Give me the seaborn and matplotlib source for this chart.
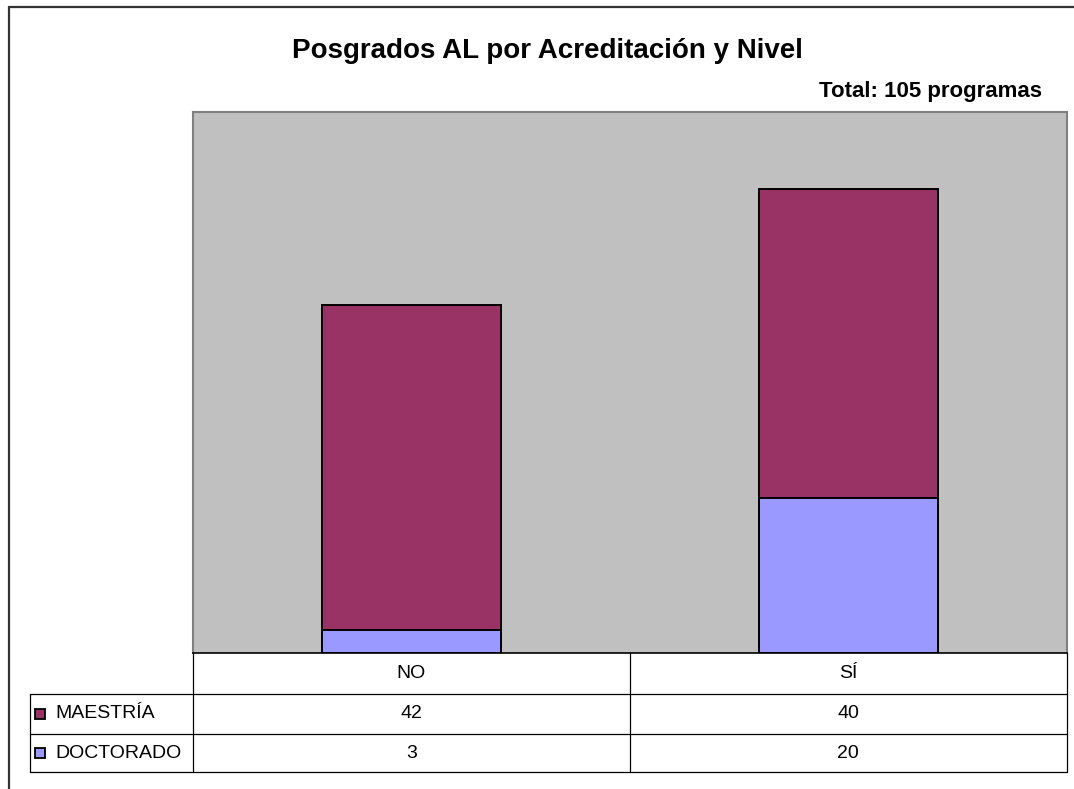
# Import libraries
import matplotlib.pyplot as plt
import matplotlib.transforms as mtransforms
from matplotlib.patches import Rectangle
import seaborn as sns
import pandas as pd

# Data
categories = ['NO', 'SÍ']
maestria = [42, 40]
doctorado = [3, 20]
series_names = ['MAESTRÍA', 'DOCTORADO']
title = 'Posgrados AL por Acreditación y Nivel'
subtitle = 'Total: 105 programas'

color_maestria = '#993366'
color_doctorado = '#9999FF'

data = pd.DataFrame({'acreditacion': categories,
                     'MAESTRÍA': maestria,
                     'DOCTORADO': doctorado})
data['total'] = data['MAESTRÍA'] + data['DOCTORADO']

sns.set_style('white')
plt.rcParams['font.family'] = ['Liberation Sans', 'DejaVu Sans']
plt.rcParams['text.color'] = 'black'

# Figure in pixel units
W, H = 1074, 789
fig = plt.figure(figsize=(W / 100, H / 100), dpi=100)
fig.patch.set_facecolor('white')

plot_left, plot_right, plot_top, plot_bottom = 192.7, 1066.7, 111.7, 652.7
ax = fig.add_axes([plot_left / W, 1 - plot_bottom / H,
                   (plot_right - plot_left) / W, (plot_bottom - plot_top) / H])
ax.set_facecolor('#C0C0C0')

# Stacked bars: total behind, doctorado in front
sns.barplot(data=data, x='acreditacion', y='total', color=color_maestria,
            width=0.41, edgecolor='black', linewidth=1.4, saturation=1, ax=ax)
sns.barplot(data=data, x='acreditacion', y='DOCTORADO', color=color_doctorado,
            width=0.41, edgecolor='black', linewidth=1.4, saturation=1, ax=ax)
ax.set_xlim(-0.5, 1.5)
ax.set_ylim(0, 70)
ax.set_xticks([])
ax.set_yticks([])
ax.set_xlabel('')
ax.set_ylabel('')
for side in ['top', 'left', 'right']:
    ax.spines[side].set_color('#808080')
    ax.spines[side].set_linewidth(1.5)
ax.spines['bottom'].set_color('black')
ax.spines['bottom'].set_linewidth(1.2)

# Overlay in pixel coordinates for titles and the data table
ov = fig.add_axes([0, 0, 1, 1], zorder=5)
ov.set_xlim(0, W)
ov.set_ylim(H, 0)
ov.axis('off')
ov.patch.set_alpha(0)

colx = mtransforms.blended_transform_factory(ax.transData, ov.transData)

# Outer frame (top and left visible)
ov.plot([8.7, 8.7], [6.7, H + 5], color='#333333', lw=1.6)
ov.plot([8.7, W + 5], [6.7, 6.7], color='#333333', lw=1.6)

ov.text(547, 58.3, title, ha='center', va='baseline', fontsize=20, weight='bold')
ov.text(1042, 96.7, subtitle, ha='right', va='baseline', fontsize=16, weight='bold')

# Table grid
row_lines = [694, 734.3, 771.7]
tbl_left = 30
line_kw = dict(color='black', lw=0.9)
for y in row_lines:
    ov.plot([tbl_left, plot_right], [y, y], **line_kw)
for x in [plot_left, plot_right]:
    ov.plot([x, x], [plot_bottom, row_lines[-1]], **line_kw)
ov.plot([0.5, 0.5], [plot_bottom, row_lines[-1]], transform=colx, **line_kw)
ov.plot([tbl_left, tbl_left], [row_lines[0], row_lines[-1]], **line_kw)

# Table text
txt_kw = dict(fontsize=14, va='center')
for i, cat in enumerate(categories):
    ov.text(i, 673, cat, ha='center', transform=colx, **txt_kw)
    ov.text(i, 714, str(maestria[i]), ha='center', transform=colx, **txt_kw)
    ov.text(i, 753, str(doctorado[i]), ha='center', transform=colx, **txt_kw)

for name, col, yc in zip(series_names, [color_maestria, color_doctorado], [714, 753]):
    ov.add_patch(Rectangle((35, yc - 5), 10, 10, facecolor=col,
                           edgecolor='black', lw=1.3))
    ov.text(55, yc, name, ha='left', **txt_kw)

fig.savefig('out.png', dpi=100)
